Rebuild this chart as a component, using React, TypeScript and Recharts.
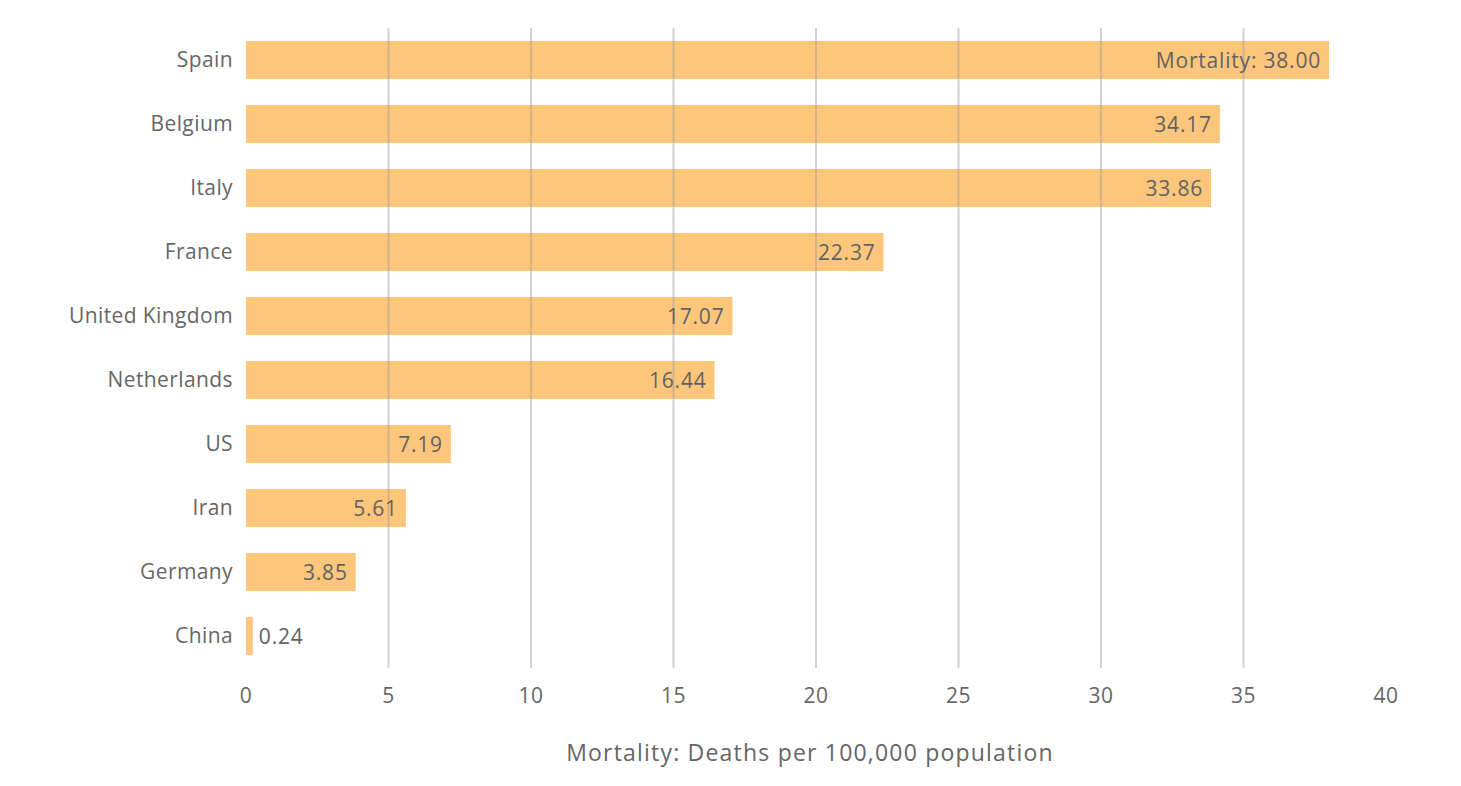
import React from 'react';
import { BarChart, Bar, XAxis, YAxis, ReferenceLine, LabelList } from 'recharts';

const countries = ['Spain', 'Belgium', 'Italy', 'France', 'United Kingdom', 'Netherlands', 'US', 'Iran', 'Germany', 'China'];
const mortality = [38.0, 34.17, 33.86, 22.37, 17.07, 16.44, 7.19, 5.61, 3.85, 0.24];
const xTicks = [0, 5, 10, 15, 20, 25, 30, 35, 40];
const gridValues = [5, 10, 15, 20, 25, 30, 35];

const data = countries.map((name, i) => ({ name, value: mortality[i] }));

const FONT = '"Open Sans", sans-serif';

// value label: inside the bar end, outside when the bar is too short
const ValueLabel = (props: any) => {
  const { x, y, width, height, value, index } = props;
  const text = (index === 0 ? 'Mortality: ' : '') + Number(value).toFixed(2);
  const inside = width > 40;
  return (
    <text
      x={inside ? x + width - 8 : x + width + 6}
      y={y + height / 2 + 1}
      dy="0.35em"
      textAnchor={inside ? 'end' : 'start'}
      fill="#5f6368"
      fontSize={21}
      letterSpacing={0.8}
      fontFamily={FONT}
    >
      {text}
    </text>
  );
};

export default function App() {
  return (
    <div style={{ position: 'absolute', left: 0, top: 0, width: 1461, height: 786, background: '#fff' }}>
      <BarChart
        width={1461}
        height={786}
        data={data}
        layout="vertical"
        margin={{ top: 28, right: 75, left: 0, bottom: 0 }}
        barSize={38}
      >
        {gridValues.map((v) => (
          <ReferenceLine key={v} x={v} stroke="#999" strokeOpacity={0.45} strokeWidth={2} />
        ))}
        <XAxis
          type="number"
          domain={[0, 40]}
          ticks={xTicks}
          axisLine={false}
          tickLine={false}
          tickSize={0}
          tickMargin={20}
          height={118}
          tick={{ fill: '#666', fontSize: 21, fontFamily: FONT, letterSpacing: 0.4 }}
          label={{
            value: 'Mortality: Deaths per 100,000 population',
            position: 'insideBottom',
            offset: 25,
            dx: -6,
            fill: '#666',
            fontSize: 23,
            letterSpacing: 1.2,
            fontFamily: FONT,
          }}
        />
        <YAxis
          type="category"
          dataKey="name"
          width={246}
          axisLine={false}
          tickLine={false}
          tickSize={0}
          tickMargin={13}
          tick={{ fill: '#666', fontSize: 21, fontFamily: FONT, letterSpacing: 0.4 }}
        />
        <Bar dataKey="value" fill="#fda832" fillOpacity={0.65} isAnimationActive={false}>
          <LabelList dataKey="value" content={<ValueLabel />} />
        </Bar>
      </BarChart>
    </div>
  );
}
